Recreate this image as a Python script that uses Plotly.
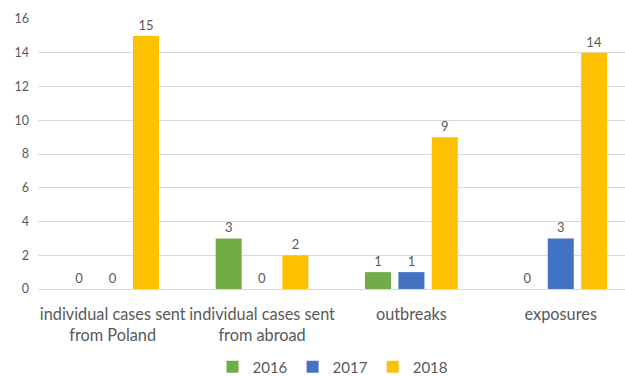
import plotly.graph_objects as go

categories = ["individual cases sent<br>from Poland", "individual cases sent<br>from abroad", "outbreaks", "exposures"]
series_names = ["2016", "2017", "2018"]
values_2016 = [0, 3, 1, 0]
values_2017 = [0, 0, 1, 3]
values_2018 = [15, 2, 9, 14]
colors = ["#70AD47", "#4472C4", "#FFC000"]
y_ticks = [0, 2, 4, 6, 8, 10, 12, 14, 16]

FONT = "Lato"
GREY = "#595959"

fig = go.Figure()
for name, vals, col in zip(series_names, [values_2016, values_2017, values_2018], colors):
    fig.add_trace(go.Bar(
        name=name, x=list(range(len(categories))), y=vals,
        marker=dict(color=col, line=dict(width=0)),
        text=[str(v) for v in vals], textposition="outside",
        textfont=dict(family=FONT, size=13, color=GREY),
        cliponaxis=False,
    ))

fig.update_layout(
    width=625, height=376,
    margin=dict(l=38, r=0, t=19, b=87),
    paper_bgcolor="white", plot_bgcolor="white",
    barmode="group", bargap=0.33, bargroupgap=0.22,
    font=dict(family=FONT, color=GREY),
    showlegend=True,
    legend=dict(orientation="h", x=333 / 625, xanchor="center", xref="container",
                y=1 - 367/376, yanchor="middle", yref="container",
                font=dict(family=FONT, size=15, color=GREY),
                tracegroupgap=0),
    xaxis=dict(tickmode="array", tickvals=list(range(len(categories))), ticktext=categories,
               range=[-0.5, 3.43], showgrid=False, zeroline=False,
               showline=True, linecolor="#D9D9D9", linewidth=1,
               tickfont=dict(family=FONT, size=16.3, color=GREY), ticks="",
               ticklabelstandoff=10),
    yaxis=dict(range=[0, 16], tickvals=y_ticks, showgrid=True, gridcolor="#D9D9D9",
               gridwidth=1, zeroline=False, showline=False, ticks="",
               anchor="free", position=0, ticklabelstandoff=9,
               tickfont=dict(family=FONT, size=12.5, color=GREY)),
)

fig.write_html("out.html")
